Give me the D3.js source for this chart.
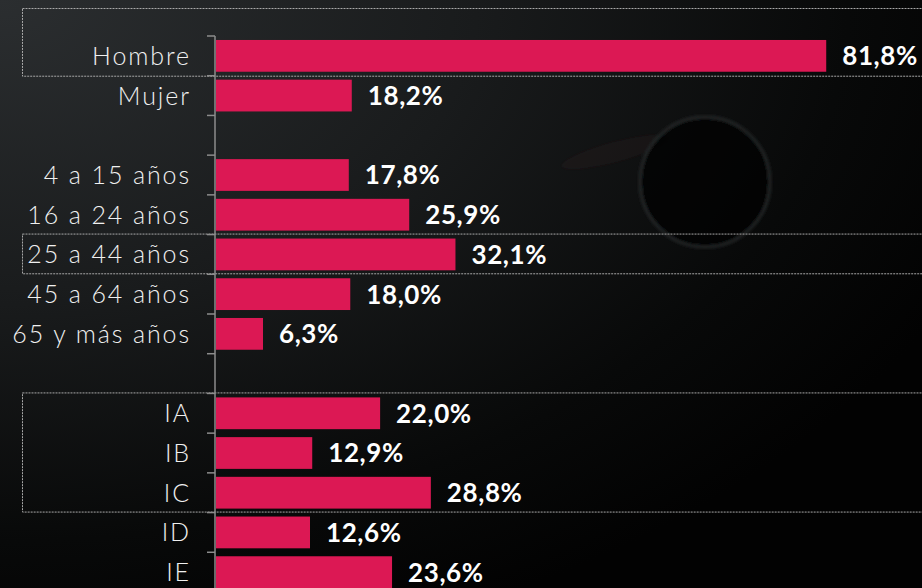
<!DOCTYPE html>
<html>
<head>
<meta charset="utf-8">
<script src="https://cdn.jsdelivr.net/npm/d3@7"></script>
<style>
  html, body { margin: 0; padding: 0; background: #000; }
  svg { display: block; }
</style>
</head>
<body>
<svg id="chart"></svg>
<script>
const WIDTH = 922;
const HEIGHT = 588;

const AXIS_X = 215;
const TOP = 36;
const BOTTOM = 592;

// categories top to bottom, blank rows are spacers
const categories = ['Hombre', 'Mujer', '_gap1', '4 a 15 años', '16 a 24 años', '25 a 44 años',
  '45 a 64 años', '65 y más años', '_gap2', 'IA', 'IB', 'IC', 'ID', 'IE'];
const values = [81.8, 18.2, null, 17.8, 25.9, 32.1, 18.0, 6.3, null, 22.0, 12.9, 28.8, 12.6, 23.6];

// highlighted groups (dashed boxes)
const highlightGroups = [
  ['Hombre', 'Hombre'],
  ['25 a 44 años', '25 a 44 años'],
  ['IA', 'IC']
];

const data = categories.map((c, i) => ({ cat: c, value: values[i] }));

const svg = d3.select('#chart').attr('width', WIDTH).attr('height', HEIGHT);

// background
const defs = svg.append('defs');
const bg = defs.append('radialGradient')
  .attr('id', 'bg')
  .attr('cx', '0%').attr('cy', '0%').attr('r', '115%');
bg.append('stop').attr('offset', '0%').attr('stop-color', '#2b2e30');
bg.append('stop').attr('offset', '45%').attr('stop-color', '#191b1c');
bg.append('stop').attr('offset', '80%').attr('stop-color', '#080909');
bg.append('stop').attr('offset', '100%').attr('stop-color', '#020202');
svg.append('rect').attr('width', WIDTH).attr('height', HEIGHT).attr('fill', 'url(#bg)');

const blur = defs.append('filter').attr('id', 'soft');
blur.append('feGaussianBlur').attr('stdDeviation', 1.8);

// faint decoration in the background
const deco = svg.append('g').attr('filter', 'url(#soft)');
deco.append('ellipse')
  .attr('cx', 615).attr('cy', 152).attr('rx', 55).attr('ry', 10)
  .attr('transform', 'rotate(-15, 615, 152)')
  .attr('fill', '#2a1b1f').attr('opacity', 0.25);
deco.append('circle')
  .attr('cx', 705).attr('cy', 182).attr('r', 65)
  .attr('fill', '#040505')
  .attr('stroke', '#2a2f31').attr('stroke-width', 3).attr('opacity', 0.7);

const x = d3.scaleLinear().domain([0, 90]).range([AXIS_X + 1, AXIS_X + 1 + 90 * 7.46]);
const y = d3.scaleBand().domain(categories).range([TOP, BOTTOM]).paddingInner(0.2).paddingOuter(0.1);

// dashed highlight boxes
svg.append('g')
  .selectAll('rect')
  .data(highlightGroups)
  .join('rect')
  .attr('x', 22.5)
  .attr('y', (d, i) => {
    const top = y(d[0]) - y.step() * y.paddingOuter();
    return (i === 0 ? top - 28 : top - 1) + 0.5;
  })
  .attr('width', WIDTH)
  .attr('height', (d, i) => {
    const top = y(d[0]) - y.step() * y.paddingOuter();
    const bottom = y(d[1]) + y.bandwidth() + y.step() * y.paddingOuter();
    return bottom - top + (i === 0 ? 28 : 0);
  })
  .attr('fill', 'none')
  .attr('stroke', '#a8a8a8')
  .attr('stroke-width', 1)
  .attr('stroke-dasharray', '2,1');

// bars
const rows = svg.append('g')
  .selectAll('.bar')
  .data(data.filter(d => d.value != null))
  .join('g')
  .attr('class', 'bar');

rows.append('rect')
  .attr('x', x(0))
  .attr('y', d => y(d.cat))
  .attr('width', d => x(d.value) - x(0))
  .attr('height', y.bandwidth())
  .attr('fill', '#dc1854');

rows.append('text')
  .attr('x', d => x(d.value) + 16)
  .attr('y', d => y(d.cat) + y.bandwidth() / 2)
  .attr('dy', '0.36em')
  .attr('fill', '#ffffff')
  .attr('font-family', 'Lato, "Noto Sans", sans-serif')
  .attr('font-weight', 'bold')
  .attr('font-size', 26)
  .attr('letter-spacing', 0.6)
  .text(d => d3.format('.1f')(d.value).replace('.', ',') + '%');

// category axis, ticks on band boundaries
const yAxis = svg.append('g');
yAxis.append('line')
  .attr('x1', AXIS_X).attr('x2', AXIS_X)
  .attr('y1', TOP).attr('y2', HEIGHT)
  .attr('stroke', '#8c8c8c').attr('stroke-width', 1.5);

const boundaries = d3.range(categories.length + 1).map(i => TOP + i * y.step());
yAxis.selectAll('.tick')
  .data(boundaries)
  .join('line')
  .attr('class', 'tick')
  .attr('x1', AXIS_X - 8).attr('x2', AXIS_X)
  .attr('y1', d => d).attr('y2', d => d)
  .attr('stroke', '#8c8c8c').attr('stroke-width', 1.5);

yAxis.selectAll('.lbl')
  .data(data.filter(d => !d.cat.startsWith('_')))
  .join('text')
  .attr('class', 'lbl')
  .attr('x', 191)
  .attr('y', d => y(d.cat) + y.bandwidth() / 2)
  .attr('dy', '0.36em')
  .attr('text-anchor', 'end')
  .attr('fill', '#f0f0f0')
  .attr('font-family', 'Lato, "Noto Sans", sans-serif')
  .attr('font-weight', 300)
  .attr('font-size', 25)
  .attr('letter-spacing', 1.9)
  .text(d => d.cat);
</script>
</body>
</html>
